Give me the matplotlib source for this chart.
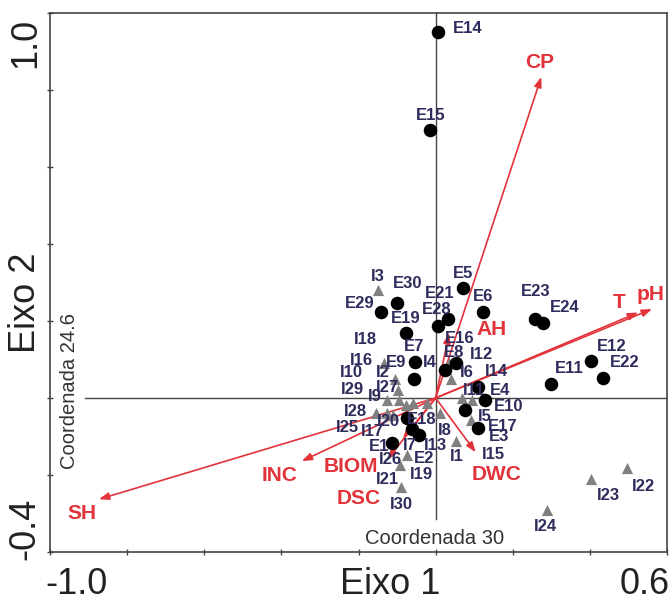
import matplotlib
matplotlib.use("Agg")
import matplotlib.pyplot as plt

plt.rcParams['font.family'] = ['Liberation Sans', 'DejaVu Sans']

# sites E (circles)
e_x = [0.006, -0.014, 0.071, -0.100, -0.142, 0.124, 0.032, 0.006, -0.078, 0.258, 0.278,
       0.403, 0.435, 0.299, 0.053, 0.025, -0.054, -0.057, 0.111, 0.129, 0.077, 0.111,
       -0.074, -0.061, -0.042, -0.113]
e_y = [0.950, 0.696, 0.286, 0.248, 0.224, 0.224, 0.204, 0.187, 0.168, 0.204, 0.196,
       0.097, 0.051, 0.036, 0.091, 0.073, 0.094, 0.050, 0.029, -0.005, -0.031, -0.079,
       -0.053, -0.081, -0.096, -0.118]

# sites I (triangles)
i_x = [-0.150, -0.135, -0.105, -0.097, -0.126, -0.094, -0.076, -0.154, -0.125, -0.023,
       0.012, 0.053, 0.068, 0.094, 0.092, -0.074, -0.092, -0.090, 0.040, 0.289, 0.403,
       0.496, 0.034, -0.110, -0.058]
i_y = [0.281, 0.090, 0.049, 0.021, -0.005, -0.005, -0.018, -0.038, -0.038, -0.014,
       -0.040, -0.112, -0.001, -0.005, -0.058, -0.148, -0.174, -0.232, 0.049, -0.291, -0.211,
       -0.183, 0.090, -0.045, -0.012]

# site labels (text, x, y)
site_labels = [
    ('E14', 0.083, 0.961), ('E15', -0.014, 0.734), ('E5', 0.071, 0.324), ('I3', -0.151, 0.316),
    ('E30', -0.073, 0.297), ('E21', 0.011, 0.272), ('E6', 0.124, 0.264), ('E23', 0.259, 0.277),
    ('E24', 0.334, 0.235), ('E29', -0.197, 0.245), ('E28', 0.004, 0.229), ('E19', -0.078, 0.207),
    ('I18', -0.181, 0.152), ('E16', 0.063, 0.155), ('E7', -0.055, 0.135), ('E8', 0.047, 0.119),
    ('I12', 0.118, 0.112), ('E12', 0.456, 0.135), ('I16', -0.192, 0.098), ('E9', -0.103, 0.093),
    ('I4', -0.014, 0.093), ('E22', 0.489, 0.093), ('I10', -0.219, 0.066), ('I2', -0.138, 0.066),
    ('I6', 0.082, 0.066), ('I14', 0.157, 0.068), ('E11', 0.346, 0.076), ('I29', -0.217, 0.023),
    ('I27', -0.125, 0.026), ('I9', -0.158, 0.005), ('I11', 0.100, 0.020), ('E4', 0.166, 0.020),
    ('I28', -0.208, -0.034), ('E10', 0.190, -0.022), ('I20', -0.123, -0.062), ('E18', -0.037, -0.055),
    ('I5', 0.127, -0.047), ('I25', -0.228, -0.077), ('I17', -0.164, -0.087), ('I8', 0.024, -0.085),
    ('E17', 0.174, -0.074), ('E3', 0.165, -0.101), ('E1', -0.147, -0.126), ('I7', -0.066, -0.123),
    ('I13', 0.000, -0.123), ('I15', 0.150, -0.146), ('I1', 0.055, -0.153), ('I26', -0.116, -0.161),
    ('E2', -0.031, -0.156), ('I21', -0.125, -0.211), ('I19', -0.037, -0.198), ('I30', -0.089, -0.276),
    ('I22', 0.539, -0.229), ('I23', 0.447, -0.253), ('I24', 0.285, -0.335),
]

# environmental vectors
env_names = ['CP', 'pH', 'T', 'AH', 'SH', 'INC', 'BIOM', 'DSC', 'DWC']
env_x = [0.274, 0.561, 0.525, 0.035, -0.873, -0.347, -0.085, -0.125, 0.104]
env_y = [0.834, 0.231, 0.222, 0.168, -0.263, -0.164, -0.105, -0.160, -0.141]
env_lab_x = [0.270, 0.558, 0.476, 0.144, -0.917, -0.405, -0.221, -0.199, 0.157]
env_lab_y = [0.872, 0.269, 0.249, 0.177, -0.300, -0.201, -0.179, -0.261, -0.199]

red = '#e2333a'
navy = '#2d2c5c'

fig = plt.figure(figsize=(6.71, 6.01), dpi=100)
ax = fig.add_axes([50/671, 49/601, 617/671, 539/601])
ax.set_xlim(-1.0, 0.6)
ax.set_ylim(-0.4, 1.0)

ax.plot([0, 0], [-0.315, 1.0], color='#444444', lw=1, zorder=1)
ax.plot([-0.91, 0.6], [0, 0], color='#444444', lw=1, zorder=1)

for i in range(len(env_names)):
    ax.annotate('', xy=(env_x[i], env_y[i]), xytext=(0, 0),
                arrowprops=dict(arrowstyle='-|>,head_length=0.6,head_width=0.22',
                                color=red, lw=1.2, shrinkA=0, shrinkB=0), zorder=2)

ax.scatter(i_x, i_y, marker='^', s=65, color='#808080', zorder=3, linewidths=0)
ax.scatter(e_x, e_y, marker='o', s=95, color='black', zorder=4, linewidths=0)

for name, lx, ly in site_labels:
    ax.text(lx, ly, name, ha='center', va='center', fontsize=12, fontweight='bold',
            color=navy, zorder=5)

for i in range(len(env_names)):
    ax.text(env_lab_x[i], env_lab_y[i], env_names[i], ha='center', va='center',
            fontsize=15, fontweight='bold', color=red, zorder=6)

ax.text(-0.003, -0.365, 'Coordenada 30', ha='center', va='center', fontsize=14.5, color='#333333')
ax.text(-0.950, 0.018, 'Coordenada 24.6', ha='center', va='center', fontsize=14.5,
        color='#333333', rotation=90)

ax.set_xticks([-1.0, -0.8, -0.6, -0.4, -0.2, 0.0, 0.2, 0.4, 0.6])
ax.set_yticks([-0.4, -0.2, 0.0, 0.2, 0.4, 0.6, 0.8, 1.0])
ax.set_xticklabels([])
ax.set_yticklabels([])
ax.tick_params(direction='inout', length=5, width=1, color='#444444')
for s in ax.spines.values():
    s.set_color('#444444')
    s.set_linewidth(1.2)

big = dict(fontsize=26, color='#222222', transform=ax.transAxes, clip_on=False)
ax.text(-0.008, -0.061, '-1.0', ha='left', va='center', **big)
ax.text(1.005, -0.061, '0.6', ha='right', va='center', **big)
ax.text(0.551, -0.061, 'Eixo 1', ha='center', va='center', **big)
ax.text(-0.04, 0.944, '1.0', ha='center', va='center', rotation=90, **big)
ax.text(-0.04, 0.043, '-0.4', ha='center', va='center', rotation=90, **big)
ax.text(-0.04, 0.462, 'Eixo 2', ha='center', va='center', rotation=90, **big)

fig.savefig('out.png', dpi=100)
